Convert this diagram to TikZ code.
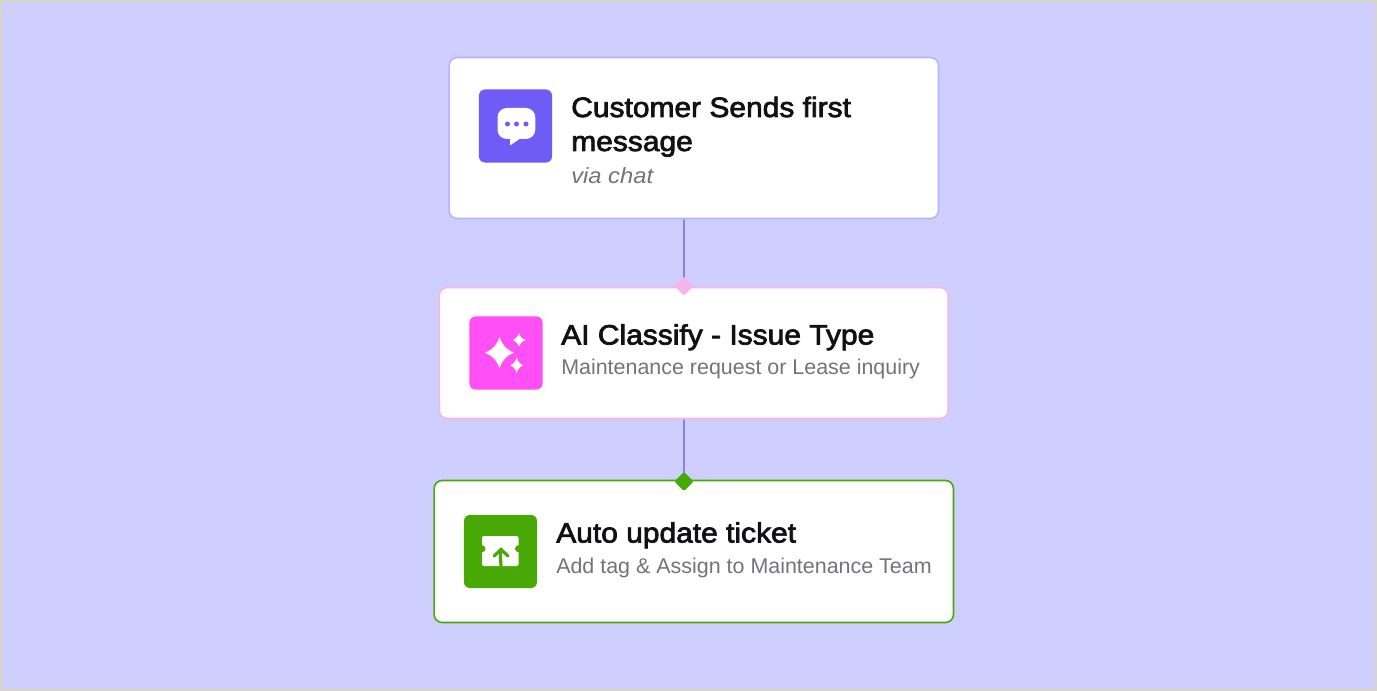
\documentclass[tikz,border=0pt]{standalone}
\usepackage{fontspec}
\setmainfont{Liberation Sans}
\newfontfamily\titlefont[FakeBold=2.6,FakeStretch=1.07]{Liberation Sans}
\newfontfamily\subfont[FakeStretch=1.005]{Liberation Sans}
\newfontfamily\subitfont[FakeStretch=1.08]{Liberation Sans Italic}
\usetikzlibrary{shapes.geometric}
\pgfdeclarelayer{under}
\pgfsetlayers{under,main}
\definecolor{bgc}{HTML}{CFCFFF}
\definecolor{edgec}{HTML}{D6D6C8}
\definecolor{purpleedge}{HTML}{B9B2FB}
\definecolor{purplefill}{HTML}{6F5BF5}
\definecolor{pinkedge}{HTML}{F7B4E8}
\definecolor{pinkfill}{HTML}{FF4FF5}
\definecolor{greenc}{HTML}{47A806}
\definecolor{linec}{HTML}{8A80E8}
\definecolor{titlec}{HTML}{111113}
\definecolor{subc}{HTML}{747478}
\tikzset{
  x=0.75pt,y=-0.75pt,
  card/.style={rectangle,rounded corners=6pt,fill=white,inner sep=0pt,line width=1.2pt},
  iconbox/.style={rectangle,rounded corners=4.5pt,minimum width=54.8pt,minimum height=54.8pt,inner sep=0pt},
  title/.style={anchor=base west,inner sep=0pt,text=titlec,font=\titlefont\fontsize{21}{24}\selectfont},
  subtitle/.style={anchor=base west,inner sep=0pt,text=subc,font=\subfont\fontsize{16}{19}\selectfont},
  subit/.style={anchor=base west,inner sep=0pt,text=subc,font=\subitfont\fontsize{16.5}{19}\selectfont},
  port/.style={diamond,inner sep=0pt,minimum width=14.5pt,minimum height=14.5pt,rounded corners=1pt},
  link/.style={draw=linec,line width=1pt},
}
\newcommand{\sparkle}[4]{\fill[white] (#1-#3,#2) .. controls (#1-#3*0.45,#2-#4*0.22) and (#1-#3*0.22,#2-#4*0.45) .. (#1,#2-#4)
  .. controls (#1+#3*0.22,#2-#4*0.45) and (#1+#3*0.45,#2-#4*0.22) .. (#1+#3,#2)
  .. controls (#1+#3*0.45,#2+#4*0.22) and (#1+#3*0.22,#2+#4*0.45) .. (#1,#2+#4)
  .. controls (#1-#3*0.22,#2+#4*0.45) and (#1-#3*0.45,#2+#4*0.22) .. (#1-#3,#2) -- cycle;}
\begin{document}
\begin{tikzpicture}
\useasboundingbox (0,0) rectangle (1377,691);
\begin{pgfonlayer}{under}
\fill[edgec] (0,0) rectangle (1377,691);
\fill[bgc] (2,2) rectangle (1375,689);
\end{pgfonlayer}

% cards
\node[card,draw=purpleedge,minimum width=367pt,minimum height=120.75pt] (c1) at (693.8,138) {};
\node[card,draw=pinkedge,minimum width=381.5pt,minimum height=98.25pt] (c2) at (693.75,353) {};
\node[card,draw=greenc,minimum width=389.5pt,minimum height=106.5pt] (c3) at (693.8,551.5) {};

% ports and connectors
\node[port,fill=pinkedge] (p2) at (684,286) {};
\node[port,fill=greenc] (p3) at (684,481.5) {};
\begin{pgfonlayer}{under}
\draw[link] (p2 |- c1.south) -- (p2.center);
\draw[link] (p3 |- c2.south) -- (p3.center);
\end{pgfonlayer}

% icon tiles
\node[iconbox,fill=purplefill] (i1) at (515.5,126) {};
\node[iconbox,fill=pinkfill] (i2) at (506,353) {};
\node[iconbox,fill=greenc] (i3) at (500.5,551.5) {};

% chat icon
\fill[white,rounded corners=7pt] (497.5,108) rectangle (535.3,139);
\fill[white] (510,134) -- (510,145.5) -- (521,138) -- cycle;
\foreach \dx in {507.5,516.5,526}{\fill[purplefill] (\dx,124) circle (2.5);}

% sparkle icon
\sparkle{499.5}{352.7}{14.5}{15.5}
\sparkle{519}{340}{6.5}{6.8}
\sparkle{516.7}{365.3}{6.5}{7.6}

% ticket icon
\fill[white,rounded corners=1.5pt] (482,536) rectangle (518.5,566);
\fill[greenc] (482,548.7) circle (3.5);
\fill[greenc] (518.5,548.7) circle (3.5);
\draw[greenc,line width=2.4pt] (501,566.5) .. controls (501,560) and (499.5,556) .. (501,550);
\draw[greenc,line width=2.4pt,line cap=round] (494,556) -- (501,549.5) -- (508,556);

% text
\node[title] (t1a) at (571,117) {Customer Sends first};
\node[title] (t1b) at (571,151) {message};
\node[subit] (t1c) at (571,183.5) {via chat};
\node[title] (t2a) at (561,344.5) {AI Classify - Issue Type};
\node[subtitle] (t2b) at (561,374.5) {Maintenance request or Lease inquiry};
\node[title] (t3a) at (556,542.5) {Auto update ticket};
\node[subtitle] (t3b) at (556,573) {Add tag \& Assign to Maintenance Team};
\end{tikzpicture}
\end{document}
